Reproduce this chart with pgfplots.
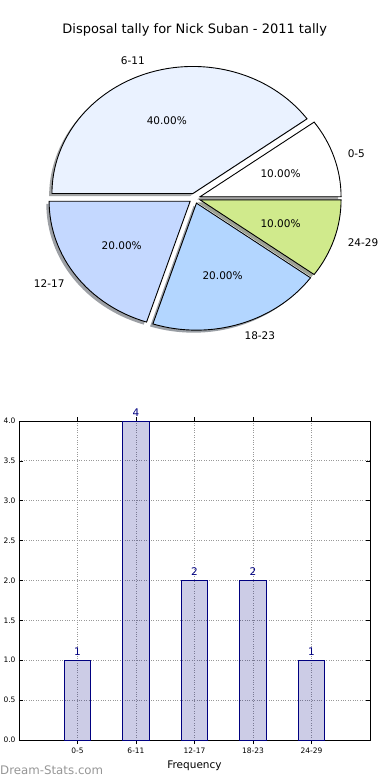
\documentclass[border=0pt]{standalone}
\usepackage{pgfplots}
\pgfplotsset{compat=1.18}
\usepackage{fontspec}
\setmainfont{DejaVu Sans}
\definecolor{navy}{RGB}{0,0,128}
\definecolor{cA}{RGB}{255,255,255}
\definecolor{cB}{RGB}{234,242,255}
\definecolor{cC}{RGB}{196,216,255}
\definecolor{cD}{RGB}{179,214,255}
\definecolor{cE}{RGB}{208,234,140}
\definecolor{wm}{RGB}{150,150,150}
\newcommand\lbl{\fontsize{10.5}{12}\selectfont}
\begin{document}
\begin{tikzpicture}
\useasboundingbox (0pt,0pt) rectangle (390pt,-780pt);
% ---------------- pie ----------------
\begin{axis}[at={(194.7pt,-198.3pt)}, anchor=center, scale only axis,
  width=338.4pt, height=304.8pt, xmin=-1.2, xmax=1.2, ymin=-1.2, ymax=1.2,
  hide axis, clip=false]
% values 1,4,2,2,1 (total 10) -> 36 degrees per unit
% shadows
\fill[cA!30!black, opacity=0.5] (axis cs:{0.04*cos(18)-0.02},{0.04*sin(18)-0.02}) -- ++(0:141pt and 127pt) arc[start angle=0,end angle=36,x radius=141pt,y radius=127pt] -- cycle;
\fill[cB!30!black, opacity=0.5] (axis cs:{0.04*cos(108)-0.02},{0.04*sin(108)-0.02}) -- ++(36:141pt and 127pt) arc[start angle=36,end angle=180,x radius=141pt,y radius=127pt] -- cycle;
\fill[cC!30!black, opacity=0.5] (axis cs:{0.04*cos(216)-0.02},{0.04*sin(216)-0.02}) -- ++(180:141pt and 127pt) arc[start angle=180,end angle=252,x radius=141pt,y radius=127pt] -- cycle;
\fill[cD!30!black, opacity=0.5] (axis cs:{0.04*cos(288)-0.02},{0.04*sin(288)-0.02}) -- ++(252:141pt and 127pt) arc[start angle=252,end angle=324,x radius=141pt,y radius=127pt] -- cycle;
\fill[cE!30!black, opacity=0.5] (axis cs:{0.04*cos(342)-0.02},{0.04*sin(342)-0.02}) -- ++(324:141pt and 127pt) arc[start angle=324,end angle=360,x radius=141pt,y radius=127pt] -- cycle;
% slices
\filldraw[fill=cA, draw=black, line width=0.9pt, line join=miter] (axis cs:{0.04*cos(18)},{0.04*sin(18)}) -- ++(0:141pt and 127pt) arc[start angle=0,end angle=36,x radius=141pt,y radius=127pt] -- cycle;
\filldraw[fill=cB, draw=black, line width=0.9pt, line join=miter] (axis cs:{0.04*cos(108)},{0.04*sin(108)}) -- ++(36:141pt and 127pt) arc[start angle=36,end angle=180,x radius=141pt,y radius=127pt] -- cycle;
\filldraw[fill=cC, draw=black, line width=0.9pt, line join=miter] (axis cs:{0.04*cos(216)},{0.04*sin(216)}) -- ++(180:141pt and 127pt) arc[start angle=180,end angle=252,x radius=141pt,y radius=127pt] -- cycle;
\filldraw[fill=cD, draw=black, line width=0.9pt, line join=miter] (axis cs:{0.04*cos(288)},{0.04*sin(288)}) -- ++(252:141pt and 127pt) arc[start angle=252,end angle=324,x radius=141pt,y radius=127pt] -- cycle;
\filldraw[fill=cE, draw=black, line width=0.9pt, line join=miter] (axis cs:{0.04*cos(342)},{0.04*sin(342)}) -- ++(324:141pt and 127pt) arc[start angle=324,end angle=360,x radius=141pt,y radius=127pt] -- cycle;
% labels
\node[anchor=west, font=\lbl, inner sep=0pt] at (axis cs:{1.14*cos(18)},{1.14*sin(18)}) {0-5};
\node[anchor=east, font=\lbl, inner sep=0pt] at (axis cs:{1.14*cos(108)},{1.14*sin(108)}) {6-11};
\node[anchor=east, font=\lbl, inner sep=0pt] at (axis cs:{1.14*cos(216)},{1.14*sin(216)}) {12-17};
\node[anchor=west, font=\lbl, inner sep=0pt] at (axis cs:{1.14*cos(288)},{1.14*sin(288)}) {18-23};
\node[anchor=west, font=\lbl, inner sep=0pt] at (axis cs:{1.14*cos(342)},{1.14*sin(342)}) {24-29};
\node[font=\lbl, inner sep=0pt] at (axis cs:{0.64*cos(18)},{0.64*sin(18)}) {10.00\%};
\node[font=\lbl, inner sep=0pt] at (axis cs:{0.64*cos(108)},{0.64*sin(108)}) {40.00\%};
\node[font=\lbl, inner sep=0pt] at (axis cs:{0.64*cos(216)},{0.64*sin(216)}) {20.00\%};
\node[font=\lbl, inner sep=0pt] at (axis cs:{0.64*cos(288)},{0.64*sin(288)}) {20.00\%};
\node[font=\lbl, inner sep=0pt] at (axis cs:{0.64*cos(342)},{0.64*sin(342)}) {10.00\%};
\end{axis}
\node[font=\fontsize{13}{15}\selectfont, inner sep=0pt] at (194.7pt,-30pt) {Disposal tally for Nick Suban - 2011 tally};
% ---------------- bars ----------------
\begin{axis}[at={(19pt,-740pt)}, anchor=south west, scale only axis,
  width=351pt, height=319pt,
  xmin=-1, xmax=5, ymin=0, ymax=4,
  xtick={0,1,2,3,4}, xticklabels={0-5,6-11,12-17,18-23,24-29},
  ytick={0,0.5,...,4},
  yticklabel style={/pgf/number format/.cd, fixed, fixed zerofill, precision=1},
  /pgf/number format/assume math mode=true,
  tick label style={font=\fontsize{7.5}{9}\selectfont},
  xmajorgrids, ymajorgrids,
  grid style={dotted, black!40, line width=0.8pt},
  tick align=inside, major tick length=4pt,
  tick style={black, line width=0.6pt},
  axis line style={line width=0.9pt},
  xlabel={Frequency}, xlabel style={font=\lbl, inner sep=0pt, yshift=-4pt},
  ybar, bar width=0.45, clip=false,
  nodes near coords,
  every node near coord/.append style={navy, font=\lbl, fill opacity=1, text opacity=1, inner sep=2pt, yshift=2.5pt}]
\addplot[draw=navy, fill=navy, fill opacity=0.2, line width=0.9pt] coordinates {(0,1) (1,4) (2,2) (3,2) (4,1)};
\end{axis}
\node[anchor=west, font=\fontsize{11.8}{13}\selectfont, text=wm, inner sep=0pt] at (0pt,-770pt) {Dream-Stats.com};
\end{tikzpicture}
\end{document}
